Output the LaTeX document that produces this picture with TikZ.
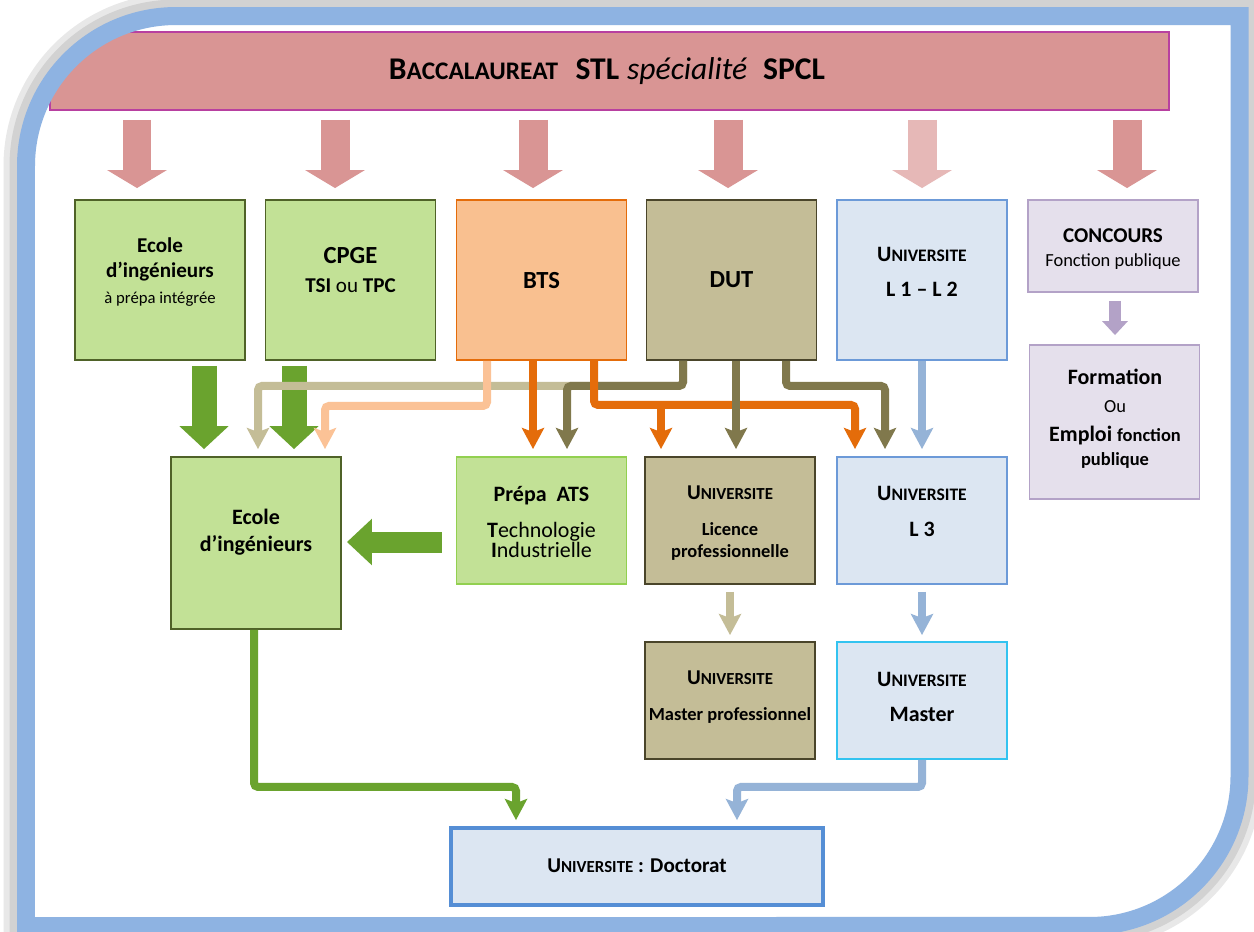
\documentclass[tikz,border=0pt]{standalone}
\usepackage{fontspec}
\setmainfont{Carlito}
\usepackage{graphicx}
\usetikzlibrary{arrows.meta,calc}

\definecolor{framebl}{RGB}{142,179,226}
\definecolor{bacfill}{RGB}{217,149,148}
\definecolor{bacline}{RGB}{184,64,160}
\definecolor{baclight}{RGB}{230,184,183}
\definecolor{grfill}{RGB}{194,225,150}
\definecolor{grline}{RGB}{79,98,40}
\definecolor{grlight}{RGB}{146,208,80}
\definecolor{grarrow}{RGB}{106,163,46}
\definecolor{orfill}{RGB}{249,192,144}
\definecolor{orline}{RGB}{228,108,10}
\definecolor{orlight}{RGB}{251,194,150}
\definecolor{tanfill}{RGB}{196,189,151}
\definecolor{tanline}{RGB}{74,69,42}
\definecolor{olivedk}{RGB}{128,120,76}
\definecolor{unifill}{RGB}{220,230,242}
\definecolor{uniline}{RGB}{108,154,216}
\definecolor{uniarrow}{RGB}{149,179,215}
\definecolor{mascyan}{RGB}{51,195,240}
\definecolor{docline}{RGB}{85,142,213}
\definecolor{purfill}{RGB}{229,224,236}
\definecolor{purline}{RGB}{179,162,199}

\newcommand{\Univ}{U\scalebox{0.8}{NIVERSITE}}

\begin{document}
\begin{tikzpicture}[
x=0.02cm, y=-0.02cm,
box/.style={
  draw,
  line width=1.1pt,
  inner sep=0pt,
  minimum width=3.4cm,
  minimum height=3.2cm
  },
green box/.style={box, fill=grfill, draw=grline},
orange box/.style={box, fill=orfill, draw=orline},
tan box/.style={box, fill=tanfill, draw=tanline},
uni box/.style={box, fill=unifill, draw=uniline},
purple box/.style={box, fill=purfill, draw=purline},
txt/.style={
  align=center,
  inner sep=0pt,
  font=\fontsize{12.5}{20}\selectfont\bfseries
  },
link/.style={
  line width=0.16cm,
  rounded corners=0.08cm,
  -{Stealth[width=0.44cm,length=0.42cm,inset=0.08cm]},
  shorten >=0.14cm
  },
pink block/.style={
  draw=bacfill,
  line width=0.58cm,
  -{Triangle[width=1.18cm,length=0.36cm]},
  shorten <=0.18cm,
  shorten >=0.22cm
  },
green block/.style={
  draw=grarrow,
  line width=0.5cm,
  -{Triangle[width=0.96cm,length=0.46cm]}
  }
]
\useasboundingbox (0,0) rectangle (1254,931);
\fill[white] (0,0) rectangle (1254,931);

% cadre
\draw[gray!18, line width=0.9cm] (26,926) -- (26,166) arc[start angle=180,end angle=90,radius=3cm] -- (1239.5,16) -- (1239.5,776) arc[start angle=0,end angle=-90,radius=3cm] -- cycle;
\draw[gray!35, line width=0.66cm] (26,926) -- (26,166) arc[start angle=180,end angle=90,radius=3cm] -- (1239.5,16) -- (1239.5,776) arc[start angle=0,end angle=-90,radius=3cm] -- cycle;
\fill[white] (26,926) -- (26,166) arc[start angle=180,end angle=90,radius=3cm] -- (1239.5,16) -- (1239.5,776) arc[start angle=0,end angle=-90,radius=3cm] -- cycle;

\begin{scope}
\clip (26,926) -- (26,166) arc[start angle=180,end angle=90,radius=3cm] -- (1239.5,16) -- (1239.5,776) arc[start angle=0,end angle=-90,radius=3cm] -- cycle;
\node[draw=bacline, fill=bacfill, line width=0.9pt, minimum width=22.38cm, minimum height=1.56cm, inner sep=0pt,
  font=\fontsize{18}{20}\selectfont\bfseries] (bac) at (609.5,71)
  {\hspace{-0.1cm}B\scalebox{0.8}{ACCALAUREAT}\hspace{0.55em}STL\hspace{0.25em}{\mdseries\itshape sp\'ecialit\'e}\hspace{0.5em}SPCL};
\end{scope}

\draw[framebl, line width=0.36cm] (26,926) -- (26,166) arc[start angle=180,end angle=90,radius=3cm] -- (1239.5,16) -- (1239.5,776) arc[start angle=0,end angle=-90,radius=3cm] -- cycle;

% premiere ligne
\node[green box] (ecolep) at (160,280) {};
\node[green box] (cpge) at (350.5,280) {};
\node[orange box] (bts) at (541.5,280) {};
\node[tan box] (dut) at (731.5,280) {};
\node[uni box] (lic12) at (922,280) {};
\node[purple box, minimum height=1.84cm] (concours) at (1113,246) {};
\node[purple box, minimum height=3.08cm] (emploi) at (1114.5,422) {};

% deuxieme ligne
\node[green box, minimum height=3.44cm] (ecole) at (256,543) {};
\node[green box, draw=grlight, minimum height=2.54cm] (ats) at (541.5,520.5) {};
\node[tan box, minimum height=2.54cm] (lpro) at (730,520.5) {};
\node[uni box, minimum height=2.54cm] (l3) at (922,520.5) {};

% troisieme ligne
\node[tan box, minimum height=2.34cm] (mpro) at (730,700.5) {};
\node[uni box, draw=mascyan, minimum height=2.34cm] (master) at (922,700.5) {};
\node[uni box, draw=docline, line width=2.2pt, minimum width=7.44cm, minimum height=1.54cm] (doct) at (637,866.5) {};

% textes
\node[txt, font=\fontsize{12}{14.5}\selectfont\bfseries] (ecolep-t) at (160,272)
  {Ecole\\d’ingénieurs\\{\fontsize{9.5}{14.5}\selectfont\mdseries à prépa intégrée}};
\node[txt, font=\fontsize{12}{17}\selectfont\bfseries] (cpge-t) at (350.5,270)
  {{\fontsize{14}{17}\selectfont CPGE}\\TSI {\mdseries ou} TPC};
\node[txt, font=\fontsize{14}{17}\selectfont\bfseries] (bts-t) at (541.5,281) {BTS};
\node[txt, font=\fontsize{14}{17}\selectfont\bfseries] (dut-t) at (731.5,280) {DUT};
\node[txt] (lic12-t) at (922,271.5) {\Univ\\L 1 – L 2};
\node[txt, font=\fontsize{12}{13.6}\selectfont\bfseries] (concours-t) at (1113,249)
  {CONCOURS\\{\fontsize{10.5}{13.6}\selectfont\mdseries Fonction publique}};
\node[txt, font=\fontsize{12.5}{15.5}\selectfont\bfseries] (emploi-t) at (1115,419)
  {Formation\\{\fontsize{10.5}{15.5}\selectfont\mdseries Ou}\\[1.5pt]
   Emploi {\fontsize{10.5}{15.5}\selectfont fonction}\\[-2pt]{\fontsize{10.5}{15.5}\selectfont publique}};
\node[txt, font=\fontsize{12.5}{15.3}\selectfont\bfseries] (ecole-t) at (256,532.5) {Ecole\\d’ingénieurs};
\node[txt, font=\fontsize{12.5}{11.5}\selectfont\mdseries] (ats-t) at (541.5,522)
  {{\bfseries Prépa\hspace{0.45em}ATS}\\[9pt]\textbf{T}echnologie\\\textbf{I}ndustrielle};
\node[txt, font=\fontsize{12}{12.5}\selectfont\bfseries] (lpro-t) at (730,523)
  {\Univ\\[8pt]{\fontsize{10.5}{12.5}\selectfont Licence}\\{\fontsize{10.5}{12.5}\selectfont professionnelle}};
\node[txt] (l3-t) at (922,511.5) {\Univ\\L 3};
\node[txt, font=\fontsize{12}{20.4}\selectfont\bfseries] (mpro-t) at (730,697)
  {\Univ\\{\fontsize{10.5}{20.4}\selectfont Master professionnel}};
\node[txt] (master-t) at (922,697) {\Univ\\Master};
\node[txt, font=\fontsize{12}{14}\selectfont\bfseries] (doct-t) at (637,866) {\Univ\ : Doctorat};

% fleches du bac
\foreach \x/\b in {137/ecolep,335/cpge,533/bts,728/dut,1127/concours}
  \draw[pink block] (bac.south -| \x,0) -- (\b.north -| \x,0);
\draw[pink block, draw=baclight] (bac.south -| 922,0) -- (lic12.north -| 922,0);

% grosses fleches vertes
\foreach \x/\b in {204/ecolep,294/cpge}
  \draw[green block, shorten <=0.1cm, shorten >=0.14cm] (\b.south -| \x,0) -- (ecole.north -| \x,0);
\draw[green block, line width=0.42cm, -{Triangle[width=0.9cm,length=0.5cm]}, shorten <=0.28cm, shorten >=0.1cm]
  (ats.west |- 0,542) -- (ecole.east |- 0,542);
\draw[purline, line width=0.24cm, -{Triangle[width=0.5cm,length=0.28cm]}, shorten <=0.16cm, shorten >=0.18cm]
  (concours.south -| 1115,0) -- (emploi.north -| 1115,0);

% liaisons
\draw[link, tanfill] (dut.south -| 683,0) -- ++(0,25) -| (ecole.north -| 258,0);
\draw[link, orlight] (bts.south -| 487,0) -- ++(0,45) -| (ecole.north -| 325,0);
\draw[link, olivedk] (dut.south -| 683,0) -- ++(0,25) -| (ats.north -| 567,0);
\draw[link, orline] (bts.south -| 533,0) -- (ats.north -| 533,0);
\draw[link, orline] (bts.south -| 594,0) -- ++(0,44) -| (l3.north -| 855,0);
\draw[link, orline] (lpro.north -| 661,0) ++(0,-53) -- (lpro.north -| 661,0);
\draw[link, olivedk] (dut.south -| 736,0) -- (lpro.north -| 736,0);
\draw[link, olivedk] (dut.south -| 786,0) -- ++(0,25) -| (l3.north -| 885,0);
\draw[link, uniarrow] (lic12.south -| 922,0) -- (l3.north -| 922,0);
\draw[link, uniarrow, shorten <=0.14cm, shorten >=0.12cm] (l3.south -| 922,0) -- (master.north -| 922,0);
\draw[link, tanfill, shorten <=0.14cm, shorten >=0.12cm] (lpro.south -| 730,0) -- (mpro.north -| 730,0);
\draw[link, grarrow, shorten >=0.12cm] (ecole.south -| 254,0) -- ++(0,157) -| (doct.north -| 516,0);
\draw[link, uniarrow, shorten >=0.12cm] (master.south -| 922,0) -- ++(0,27) -| (doct.north -| 737,0);
\end{tikzpicture}
\end{document}
